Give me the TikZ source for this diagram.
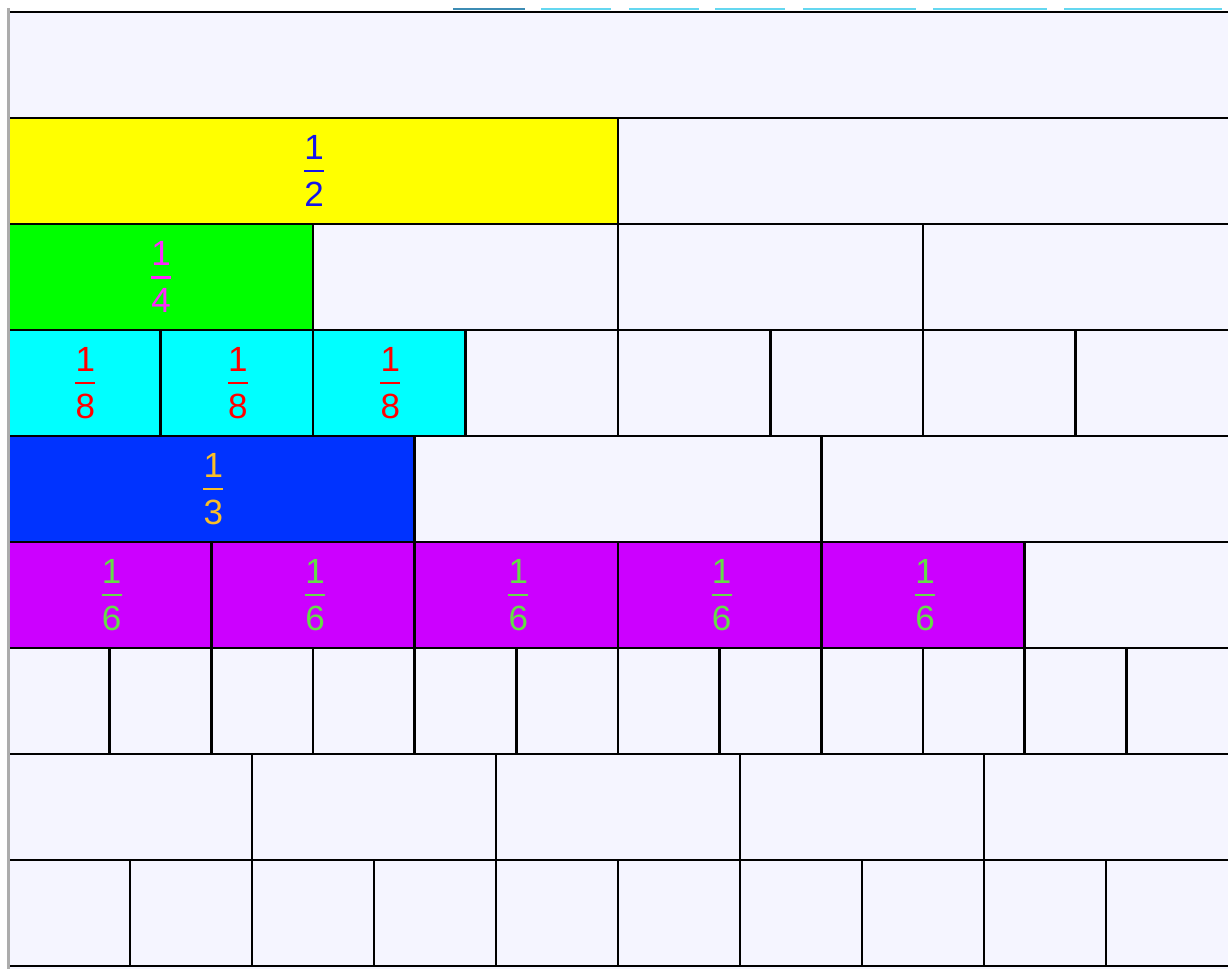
\documentclass[tikz,border=0pt]{standalone}
\usepackage{fontspec}
\setmainfont{Liberation Sans}
\definecolor{cellbg}{RGB}{245,245,255}
\definecolor{yellowc}{RGB}{255,255,0}
\definecolor{greenc}{RGB}{0,255,0}
\definecolor{cyanc}{RGB}{0,255,255}
\definecolor{bluec}{RGB}{0,51,255}
\definecolor{purplec}{RGB}{204,0,255}
\definecolor{halftxt}{RGB}{20,20,235}
\definecolor{quartertxt}{RGB}{255,40,255}
\definecolor{eighthtxt}{RGB}{255,0,0}
\definecolor{thirdtxt}{RGB}{250,190,40}
\definecolor{sixthtxt}{RGB}{100,222,70}
\definecolor{tabc}{RGB}{100,215,240}
\definecolor{tabdark}{RGB}{60,140,180}
\newcommand\fracstack[2]{\vbox{\hbox to 20pt{\hss#1\hss}\kern10.5pt\hrule height 2.8pt\kern10pt\hbox to 20pt{\hss#2\hss}}}
\tikzset{
  grid/.style={line width=2.6pt, draw=black},
  frac/.style={inner sep=0pt, font=\fontsize{35}{35}\selectfont},
}
\begin{document}
\begin{tikzpicture}[x=1pt,y=-1pt]
\useasboundingbox (0,0) rectangle (1228,969);
\clip (0,0) rectangle (1228,969);
\fill[white] (0,0) rectangle (1228,969);
% background of all cells
\fill[cellbg] (8,12) rectangle (1240,969);
% coloured cells
\fill[yellowc] (8,118) rectangle (618,224);
\fill[greenc] (8,224) rectangle (313,330);
\fill[cyanc] (8,330) rectangle (465.5,436);
\fill[bluec] (8,436) rectangle ({8+1220/3},542);
\fill[purplec] (8,542) rectangle ({8+1220*5/6},648);
% horizontal lines
\foreach \yy in {12,118,...,966} \draw[grid] (10,\yy) -- (1240,\yy);
% vertical divisions
\foreach \n [count=\r from 0] in {1,2,4,8,3,6,12,5,10} {
  \ifnum\n>1
    \pgfmathtruncatemacro\m{\n-1}
    \foreach \i in {1,...,\m} \draw[grid] ({8+1220*\i/\n},{12+106*\r}) -- ++(0,106);
  \fi
}
% left window edge
\draw[line width=3pt, gray!65] (8,8) -- (8,969);
% top tab strip
\draw[line width=2pt, tabdark] (453,9) -- (525,9);
\foreach \a/\b in {541/611,629/699,715/785,803/916,933/1047,1064/1222}
  \draw[line width=2pt, tabc] (\a,9) -- (\b,9);
% fractions
\node[frac, text=halftxt] (h1) at (314,171) {\fracstack{1}{2}};
\node[frac, text=quartertxt] (q1) at (161,277) {\fracstack{1}{4}};
\foreach \i in {1,2,3}
  \node[frac, text=eighthtxt] (e\i) at ({9+1220*(\i-0.5)/8},383) {\fracstack{1}{8}};
\node[frac, text=thirdtxt] (t1) at ({10+1220/6},489) {\fracstack{1}{3}};
\foreach \i in {1,...,5}
  \node[frac, text=sixthtxt] (s\i) at ({10+1220*(\i-0.5)/6},595) {\fracstack{1}{6}};
\end{tikzpicture}
\end{document}
